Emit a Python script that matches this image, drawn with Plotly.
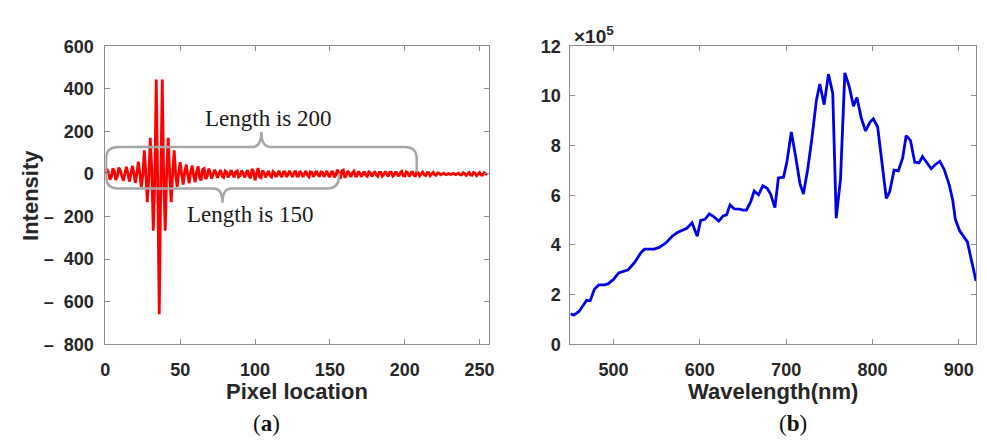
import plotly.graph_objects as go

# ---------------- data ----------------
# (a) interferogram: intensity per pixel location 0..255
intensity = [
    0, 24, 8, -26, -14, 26, 14, -28, -12, 30,
    16, -10, -32, 0, 34, 6, -36, -4, 38, 8,
    -42, -2, 58, 4, -62, -8, 111, 10, -133, -15,
    170, 20, -267, -40, 444, -60, -659, -60, 444, -40,
    -267, 20, 170, -15, -133, 10, 111, -6, -60, 4,
    55, -2, -50, 8, 45, -4, -44, 10, 40, -8,
    -38, 12, 36, -20, -30, 22, 26, -24, -12, 25,
    8, -22, -5, 20, 2, -18, 4, 18, -10, -16,
    14, 10, -16, -4, 18, -2, -16, 10, 14, -14,
    -8, 16, 4, -16, 2, 18, -10, -20, 24, 10,
    -30, 6, 28, -14, -18, 16, 6, -16, 2, 15,
    -8, -14, 12, 6, -15, 0, 15, -6, -14, 10,
    10, -14, -4, 15, 0, -14, 6, 14, -10, -10,
    13, 4, -14, 0, 14, -6, -13, 10, 8, -13,
    -2, 14, -4, -12, 10, 8, -13, 0, 14, -6,
    -14, 10, 10, -16, -4, 20, -2, -22, 14, 18,
    -18, -6, 15, 2, -14, 6, 13, -10, -10, 12,
    4, -13, 0, 12, -6, -11, 10, 6, -12, -2,
    12, -4, -11, 8, 8, -10, -2, 12, -4, -12,
    8, 9, -10, -4, 11, 0, -11, 6, 12, -8,
    -10, 10, 6, -12, -2, 13, -4, -12, 10, 6,
    -9, -2, 9, -4, -8, 6, 6, -8, 0, 8,
    -4, -6, 5, 3, -4, 0, 4, -2, -3, 2,
    1, -2, 2, 2, -3, 0, 4, -4, -4, 6,
    2, -7, 1, 7, -5, -6, 7, 3, -8, 0,
    7, -5, -6, 6, 3, -5,
]
pixel = list(range(len(intensity)))

# (b) spectrum (values in units of 1e5)
wavelength = [
    450, 454, 460, 469, 473, 478, 483, 490, 494, 500,
    506, 511, 517, 525, 532, 536, 547, 553, 561, 568,
    574, 585, 591, 597, 601, 606, 611, 616, 622, 627,
    631, 635, 640, 646, 650, 654, 659, 663, 668, 673,
    678, 682, 687, 691, 697, 701, 706, 711, 716, 720,
    725, 730, 735, 739, 744, 749, 754, 758, 763, 768,
    773, 778, 782, 787, 792, 797, 801, 806, 811, 816,
    820, 825, 830, 835, 839, 844, 849, 854, 858, 863,
    868, 873, 878, 883, 889, 893, 896, 901, 905, 910,
    914, 920,
]
spectrum_e5 = [
    1.23, 1.17, 1.32, 1.77, 1.75, 2.22, 2.39, 2.39, 2.44, 2.61,
    2.87, 2.93, 3.00, 3.32, 3.70, 3.83, 3.83, 3.90, 4.09, 4.35,
    4.50, 4.67, 4.89, 4.35, 4.99, 5.03, 5.25, 5.14, 4.96, 5.17,
    5.21, 5.61, 5.45, 5.44, 5.40, 5.40, 5.74, 6.17, 6.02, 6.38,
    6.28, 6.05, 5.50, 6.70, 6.73, 7.37, 8.55, 7.56, 6.47, 6.05,
    7.05, 8.33, 9.81, 10.48, 9.65, 10.88, 10.10, 5.08, 6.66, 10.93,
    10.39, 9.59, 9.94, 9.11, 8.59, 8.94, 9.08, 8.75, 7.18, 5.88,
    6.15, 7.01, 6.98, 7.50, 8.40, 8.21, 7.33, 7.31, 7.56, 7.33,
    7.07, 7.24, 7.37, 7.05, 6.41, 5.80, 5.03, 4.57, 4.38, 4.12,
    3.48, 2.55,
]

# ticks
x1_ticks = [0, 50, 100, 150, 200, 250]
y1_ticks = [600, 400, 200, 0, -200, -400, -600, -800]
y1_labels = ["600", "400", "200", "0",
             "\u2013\u00a0\u00a0200", "\u2013\u00a0\u00a0400", "\u2013\u00a0\u00a0600", "\u2013\u00a0\u00a0800"]
x2_ticks = [500, 600, 700, 800, 900]
y2_ticks = [0, 2, 4, 6, 8, 10, 12]

# braces: (start, end, level, tip, end level, label, label x, label y)
braces = [
    (0.5, 208, 127, 198, 8, "Length is 200", 109, 259),
    (0.5, 156, -68, -135, 2, "Length is 150", 97, -190),
]

# ---------------- layout helpers ----------------
W, H = 987, 444
def px(x):
    return x / W
def py(y):
    return 1 - y / H

TICK_COLOR = "#262626"
AX_COLOR = "#8c8c8c"
SANS = "Liberation Sans"
SERIF = "Liberation Serif"

fig = go.Figure()
fig.add_trace(go.Scatter(x=pixel, y=intensity, mode="lines",
                         line=dict(color="#ff0000", width=2.8),
                         xaxis="x", yaxis="y", showlegend=False))
fig.add_trace(go.Scatter(x=wavelength, y=spectrum_e5, mode="lines",
                         line=dict(color="#0000e6", width=2.8),
                         xaxis="x2", yaxis="y2", showlegend=False))

axis_common = dict(showline=True, linecolor=AX_COLOR, linewidth=1, mirror="ticks",
                   ticks="inside", ticklen=5, tickcolor=AX_COLOR, tickwidth=1,
                   showgrid=False, zeroline=False,
                   tickfont=dict(family=SANS, size=18, color=TICK_COLOR, weight="bold"))

ydom = [py(350), py(38)]
fig.update_layout(
    width=W, height=H,
    margin=dict(l=0, r=0, t=0, b=0),
    paper_bgcolor="white", plot_bgcolor="white",
    xaxis=dict(domain=[px(101.5), px(489)], range=[0, 256], tickvals=x1_ticks,
               anchor="y", ticklabelstandoff=9, **axis_common),
    yaxis=dict(domain=ydom, range=[-800, 600], tickvals=y1_ticks, ticktext=y1_labels,
               anchor="x", ticklabelstandoff=7, **axis_common),
    xaxis2=dict(domain=[px(571.7), px(982)], range=[450, 920], tickvals=x2_ticks,
                anchor="y2", ticklabelstandoff=9, **axis_common),
    yaxis2=dict(domain=ydom, range=[0, 12], tickvals=y2_ticks,
                anchor="x2", ticklabelstandoff=5, **axis_common),
)

# braces drawn from their spans
rx, ry, cx = 8.0, 55.0, 6.0
for (b0, b1, yh, ytip, yend, label, lx, ly) in braces:
    s = 1 if ytip > yh else -1
    xm = (b0 + b1) / 2
    yc = yh - s * ry
    path = (f"M {b0},{yend} L {b0},{yc} Q {b0},{yh} {b0+rx},{yh} "
            f"L {xm-cx},{yh} Q {xm},{yh} {xm},{ytip} Q {xm},{yh} {xm+cx},{yh} "
            f"L {b1-rx},{yh} Q {b1},{yh} {b1},{yc} L {b1},{yend}")
    fig.add_shape(type="path", path=path, xref="x", yref="y",
                  line=dict(color="#a6a6a6", width=2.5), layer="above")
    fig.add_annotation(x=lx, y=ly, xref="x", yref="y", text=label, showarrow=False,
                       font=dict(family=SERIF, size=23, color="#1a1a1a"),
                       xanchor="center", yanchor="middle")

def ann(text, x, y, size, family=SANS, angle=0, xanchor="center", bold=True, color=TICK_COLOR):
    fig.add_annotation(x=px(x), y=py(y), xref="paper", yref="paper", text=text,
                       showarrow=False, textangle=angle, xanchor=xanchor, yanchor="middle",
                       font=dict(family=family, size=size, color=color,
                                 weight="bold" if bold else "normal"))

ann("Intensity", 26, 194, 22, angle=-90)
ann("Pixel location", 295, 399, 22)
ann("Wavelength(nm)", 777, 399, 22)
ann("(<b>a</b>)", 264, 433, 23, family=SERIF, bold=False, color="#111111")
ann("(<b>b</b>)", 797, 433, 23, family=SERIF, bold=False, color="#111111")
ann("\u00d710<sup>5</sup>", 573, 26, 19, xanchor="left")

fig.write_html("out.html")
